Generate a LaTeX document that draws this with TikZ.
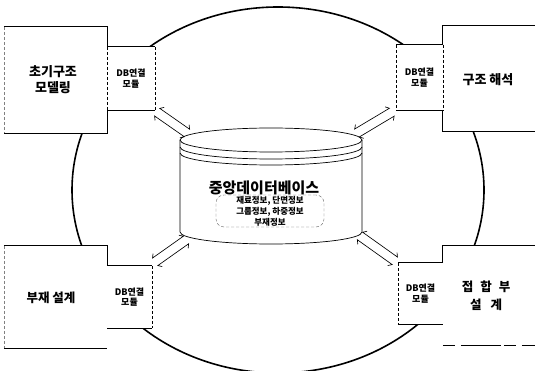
\documentclass[tikz,border=0pt]{standalone}
\usepackage{fontspec}
\setmainfont{Noto Sans CJK KR}
\usetikzlibrary{decorations.markings}
\tikzset{
  ring/.style={line width=1.6pt},
  edge/.style={line width=0.7pt},
  softedge/.style={line width=0.5pt, densely dashed},
  mainbox/.style={inner sep=0pt, fill=white},
  dbbox/.style={inner sep=0pt, fill=white, font=\bfseries\fontsize{9}{10.5}\selectfont, align=center},
  lbl/.style={font=\bfseries\fontsize{13}{16}\selectfont, align=center},
  title/.style={font=\bfseries\fontsize{15}{17}\selectfont},
  info/.style={font=\bfseries\fontsize{8.5}{11}\selectfont, align=center, draw=black!60, densely dashed, line width=0.4pt, rounded corners=8pt, minimum width=108pt, minimum height=32pt, inner sep=0pt},
  linkstroke/.style={line width=0.65pt, solid, line join=miter},
  link/.style={decorate, decoration={markings, mark=at position 0 with {
      \draw[linkstroke] (3pt,8pt) -- (0pt,4.6pt) -- (\pgfdecoratedpathlength,4.6pt) -- ++(-3pt,3.4pt);
      \draw[linkstroke] (3pt,-8pt) -- (0pt,-4.6pt) -- (\pgfdecoratedpathlength,-4.6pt) -- ++(-3pt,-3.4pt);
  }}}
}
\begin{document}
\begin{tikzpicture}[x=1pt,y=-1pt]
\useasboundingbox (0,0) rectangle (535,371);
% big ring
\draw[ring] (278,190) ellipse [x radius=206pt, y radius=183pt];

% ---- top-left
\node[mainbox, minimum width=103pt, minimum height=106pt] (mTL) at (55.5,80) {};
\node[lbl] (tTL) at (53,80) {초기구조\\모델링};
\draw[edge] (mTL.north west) -- (mTL.north east) -- (mTL.south east) -- (mTL.south west);
\draw[softedge, black!50] (mTL.north west) -- (mTL.south west);
\node[dbbox, minimum width=48pt, minimum height=63pt] (dTL) at (131,78.5) {DB연결\\모듈};
\draw[edge] (dTL.north west) -- (dTL.north east) (dTL.south east) -- (dTL.south west);
\draw[softedge] (dTL.north east) -- (dTL.south east) (dTL.north west) -- (dTL.south west);

% ---- top-right
\node[mainbox, minimum width=90pt, minimum height=105pt] (mTR) at (488,78.5) {};
\node[lbl] (tTR) at (488,80) {구조 해석};
\draw[edge] (mTR.north west) ++(100,0) -- (mTR.north west) -- (mTR.south west) -- ++(100,0);
\node[dbbox, minimum width=47pt, minimum height=65pt] (dTR) at (419.5,77.5) {DB연결\\모듈};
\draw[edge] (dTR.north east) -- (dTR.north west) (dTR.south west) -- (dTR.south east);
\draw[softedge] (dTR.north west) -- (dTR.south west) (dTR.north east) -- (dTR.south east);

% ---- bottom-left
\node[mainbox, minimum width=103pt, minimum height=102pt] (mBL) at (55.5,297) {};
\node[lbl, font=\bfseries\fontsize{12.5}{16}\selectfont] (tBL) at (51,298) {부재 설계};
\draw[edge] (mBL.north west) -- (mBL.north east) -- ++(0,20);
\draw[edge] (mBL.south west) -- (mBL.south east);
\draw[softedge, black!50] (mBL.north west) -- (mBL.south west);
\node[dbbox, minimum width=45pt, minimum height=62pt] (dBL) at (129.5,297) {DB연결\\모듈};
\draw[edge] (dBL.north west) -- (dBL.north east) (dBL.south east) -- (dBL.south west);
\draw[softedge] (dBL.north east) -- (dBL.south east);

% ---- bottom-right
\node[mainbox, minimum width=90pt, minimum height=99pt] (mBR) at (488,295.5) {};
\node[lbl, font=\bfseries\fontsize{12.5}{18}\selectfont] (tBR) at (486,295.5) {접\hspace{7pt}합\hspace{7pt}부\\설\hspace{9pt}계};
\draw[edge] (mBR.north west) ++(100,0) -- (mBR.north west) -- ++(0,17);
\draw[edge, dash pattern=on 12pt off 6pt on 40pt off 3pt] (mBR.south west) -- ++(100,0);
\node[dbbox, minimum width=45pt, minimum height=61pt] (dBR) at (420.5,293.5) {DB연결\\모듈};
\draw[edge] (dBR.north east) -- (dBR.north west) (dBR.south west) -- (dBR.south east);
\draw[softedge] (dBR.north west) -- (dBR.south west);

% ---- central database cylinder
\fill[white] (180,140) -- (180,232) arc[start angle=180, end angle=360, x radius=91pt, y radius=12pt] -- (362,140) -- cycle;
\draw[edge] (180,140) -- (180,232) arc[start angle=180, end angle=360, x radius=91pt, y radius=12pt] -- (362,140);
\draw[edge, fill=white] (271,140) ellipse [x radius=91pt, y radius=12pt];
\draw[edge] (180,147) arc[start angle=180, end angle=360, x radius=91pt, y radius=12pt];
\draw[edge] (180,153) arc[start angle=180, end angle=360, x radius=91pt, y radius=12pt];
\node[title] (db) at (264,188) {중앙데이터베이스};
\node[info] (infobox) at (270,211) {재료정보, 단면정보\\그룹정보, 하중정보\\부재정보};

% ---- link arrows
\coordinate (cTL) at (187,133);
\coordinate (cTR) at (357,133);
\coordinate (cBL) at (186,240);
\coordinate (cBR) at (360,236);
\path[link] ([shift={(2,2)}]dTL.south east) -- (cTL);
\path[link] ([shift={(-4,2)}]dTR.south west) -- (cTR);
\path[link] ([shift={(3,-4)}]dBL.north east) -- (cBL);
\path[link] ([shift={(-3,-2)}]dBR.north west) -- (cBR);
\end{tikzpicture}
\end{document}
